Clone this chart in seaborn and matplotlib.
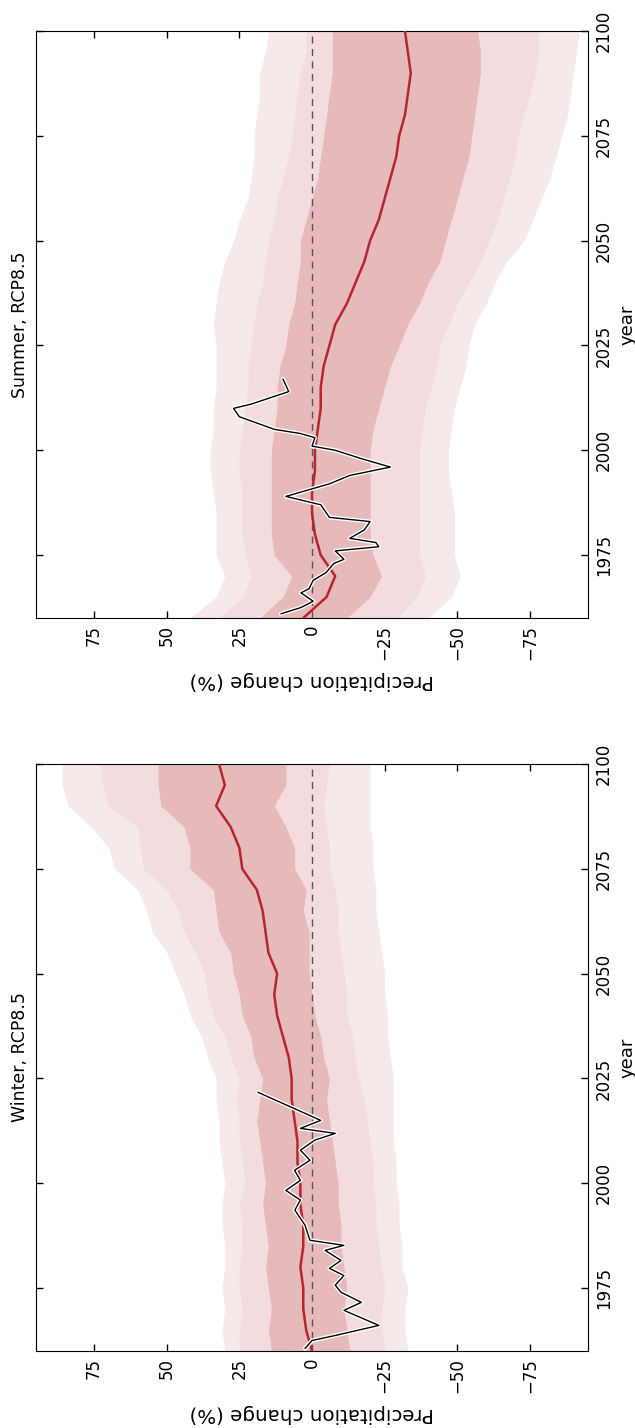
import numpy as np
import pandas as pd
import matplotlib
matplotlib.use("Agg")
import matplotlib.pyplot as plt
import matplotlib.patheffects as pe
import seaborn as sns

# ---- model ensemble statistics, 5-year steps ----
model_years = [1960, 1965, 1970, 1975, 1980, 1985, 1990, 1995, 2000, 2005,
               2010, 2015, 2020, 2025, 2030, 2035, 2040, 2045, 2050, 2055,
               2060, 2065, 2070, 2075, 2080, 2085, 2090, 2095, 2100]

winter_median = [0, 2, 3, 3, 4, 3, 3, 4, 4, 5, 5, 6, 7, 7, 8, 10, 12, 13, 12, 15,
                 16, 17, 19, 24, 25, 28, 33, 30, 32]
winter_dark_hi = [14, 15, 14, 15, 16, 15, 16, 17, 16, 17, 18, 19, 18, 17, 20, 21, 24,
                  25, 27, 28, 32, 33, 34, 42, 42, 44, 52, 53, 53]
winter_dark_lo = [-13, -12, -11, -12, -11, -10, -10, -9, -9, -8, -7, -6, -5, -6, -4,
                  -3, -1, 0, 1, 1, 1, 3, 2, 6, 6, 9, 13, 9, 9]
winter_mid_hi = [25, 25, 24, 25, 25, 24, 24, 25, 23, 24, 25, 25, 26, 25, 28, 30, 34,
                 36, 37, 40, 44, 46, 50, 58, 59, 60, 70, 72, 73]
winter_mid_lo = [-25, -24, -24, -25, -24, -23, -22, -22, -21, -21, -20, -19, -18,
                 -16, -15, -14, -12, -12, -11, -10, -9, -9, -8, -6, -6, -5, -4, -5, -6]
winter_light_hi = [30, 31, 30, 31, 30, 30, 31, 31, 30, 31, 32, 32, 33, 33, 36, 38,
                   42, 44, 47, 50, 55, 57, 60, 68, 70, 76, 84, 86, 86]
winter_light_lo = [-33, -32, -32, -33, -31, -31, -30, -30, -29, -29, -28, -28, -28,
                   -28, -27, -26, -26, -25, -25, -24, -23, -22, -22, -21, -21, -20,
                   -20, -20, -20]

summer_median = [3, -5, -8, -3, -1, 0, 0, -1, -1, -2, -3, -3, -4, -6, -8, -12, -15,
                 -18, -20, -23, -25, -27, -29, -30, -32, -33, -34, -33, -32]
summer_dark_hi = [18, 10, 7, 13, 14, 14, 14, 14, 14, 13, 12, 12, 11, 9, 8, 6, 5, 4, 4,
                  2, 0, -2, -3, -4, -5, -6, -7, -7, -7]
summer_dark_lo = [-12, -20, -24, -21, -20, -20, -20, -20, -20, -21, -23, -25, -27,
                  -30, -33, -37, -40, -44, -46, -48, -50, -52, -54, -55, -56, -57,
                  -58, -58, -57]
summer_mid_hi = [32, 24, 21, 23, 24, 24, 24, 25, 25, 24, 23, 22, 22, 21, 20, 19, 17,
                 16, 15, 13, 12, 10, 8, 7, 6, 5, 4, 2, 2]
summer_mid_lo = [-29, -36, -39, -37, -37, -37, -37, -37, -37, -38, -39, -41, -43, -44,
                 -47, -50, -54, -58, -61, -64, -66, -68, -70, -71, -73, -75, -77, -78,
                 -78]
summer_light_hi = [42, 33, 30, 33, 33, 33, 34, 35, 35, 34, 34, 33, 33, 33, 34, 33, 32,
                   30, 27, 25, 22, 21, 20, 20, 19, 18, 18, 16, 15]
summer_light_lo = [-40, -48, -51, -49, -49, -49, -48, -47, -47, -48, -49, -51, -53,
                   -54, -56, -60, -63, -67, -73, -76, -79, -82, -84, -86, -88, -89,
                   -90, -91, -92]

# ---- observed seasonal anomalies ----
winter_obs_years = [1960.6, 1962.5, 1963.7, 1966.1, 1968.5, 1969.7, 1971.6, 1974.0,
                    1975.7, 1978.0, 1979.7, 1981.6, 1984.0, 1985.2, 1986.4, 1990.0,
                    1993.6, 1996.0, 1998.3, 2000.7, 2003.1, 2005.5, 2007.9, 2010.3,
                    2011.9, 2013.1, 2015.0, 2021.7]
winter_obs = [2.4, 0, -8, -23, -15, -11, -17, -10, -8, -11, -6, -10, -4.5, -11, 0.7,
              2.4, 5.9, 4, 9, 4, 6, 0.7, 4, -1, -8, 4, -3, 18.6]

summer_obs_years = [1961, 1962.5, 1964, 1966, 1967, 1969, 1970.8, 1973, 1974,
                    1976, 1977, 1978, 1979, 1981, 1983, 1984, 1987, 1989, 1990,
                    1992, 1994, 1996, 1998, 2000, 2001, 2003, 2004, 2005, 2008,
                    2010, 2011, 2014, 2017]
summer_obs = [10.7, 3.8, -0.4, 3.8, 1, -0.4, -4.8, -7.5, -11, -8, -23, -22, -13,
              -18, -20, -6, -3, 9, 4, -6, -13, -27, -17, -8, 0, -1, 4, 13, 25, 27,
              21, 8, 10]

x_ticks = [75, 50, 25, 0, -25, -50, -75]
year_ticks = [1975, 2000, 2025, 2050, 2075, 2100]

sns.set_style("ticks", {
    "xtick.direction": "in", "ytick.direction": "in",
    "axes.edgecolor": "black", "axes.linewidth": 1.2,
    "text.color": "black", "axes.labelcolor": "black",
    "xtick.color": "black", "ytick.color": "black",
})
plt.rcParams["font.family"] = ["DejaVu Sans"]

LIGHT = "#f6e9ea"
MID = "#f2dcdd"
DARK = "#e6b9bb"
RED = "#b8262b"

W, H = 635, 1428
fig = plt.figure(figsize=(W / 100, H / 100), dpi=100)
ax_summer = fig.add_axes([36 / W, (H - 618) / H, 552 / W, 587 / H])
ax_winter = fig.add_axes([36 / W, (H - 1351) / H, 552 / W, 587 / H])


def draw_panel(ax, title, med, dlo, dhi, mlo, mhi, llo, lhi, oyrs, obs):
    yrs = np.array(model_years)
    ax.fill_betweenx(yrs, llo, lhi, color=LIGHT, lw=0)
    ax.fill_betweenx(yrs, mlo, mhi, color=MID, lw=0)
    ax.fill_betweenx(yrs, dlo, dhi, color=DARK, lw=0)
    ax.axvline(0, color="#555555", lw=1.0, ls=(0, (5, 4)), zorder=2)
    df_m = pd.DataFrame({"change": med, "year": model_years})
    sns.lineplot(data=df_m, x="change", y="year", sort=False, estimator=None,
                 color=RED, lw=1.8, ax=ax, zorder=3)
    df_o = pd.DataFrame({"change": obs, "year": oyrs})
    sns.lineplot(data=df_o, x="change", y="year", sort=False, estimator=None,
                 color="black", lw=1.0, ax=ax, zorder=4,
                 path_effects=[pe.Stroke(linewidth=3.0, foreground="white"),
                               pe.Normal()])
    ax.set_xlim(95, -95)
    ax.set_ylim(1960, 2100)
    ax.set_xticks(x_ticks)
    ax.set_xticklabels([f"{t}".replace("-", "\u2212") for t in x_ticks],
                       rotation=90, fontsize=12)
    ax.set_yticks(year_ticks)
    ax.set_yticklabels([str(t) for t in year_ticks], rotation=90, fontsize=12,
                       va="center")
    ax.tick_params(axis="both", which="major", length=5, width=1.0,
                   top=True, bottom=True, left=True, right=True,
                   labelleft=False, labelright=True, pad=5)
    ax.yaxis.set_label_position("right")
    ax.set_ylabel("year", rotation=90, fontsize=13, labelpad=4)
    ax.set_xlabel("Precipitation change (%)", rotation=180, fontsize=14.3,
                  labelpad=8)
    ax.text(-0.012, 0.5, title, transform=ax.transAxes, rotation=90,
            ha="right", va="center", fontsize=12.5)


draw_panel(ax_summer, "Summer, RCP8.5", summer_median, summer_dark_lo,
           summer_dark_hi, summer_mid_lo, summer_mid_hi, summer_light_lo,
           summer_light_hi, summer_obs_years, summer_obs)
draw_panel(ax_winter, "Winter, RCP8.5", winter_median, winter_dark_lo,
           winter_dark_hi, winter_mid_lo, winter_mid_hi, winter_light_lo,
           winter_light_hi, winter_obs_years, winter_obs)

fig.savefig("out.png", dpi=100, facecolor="white")
